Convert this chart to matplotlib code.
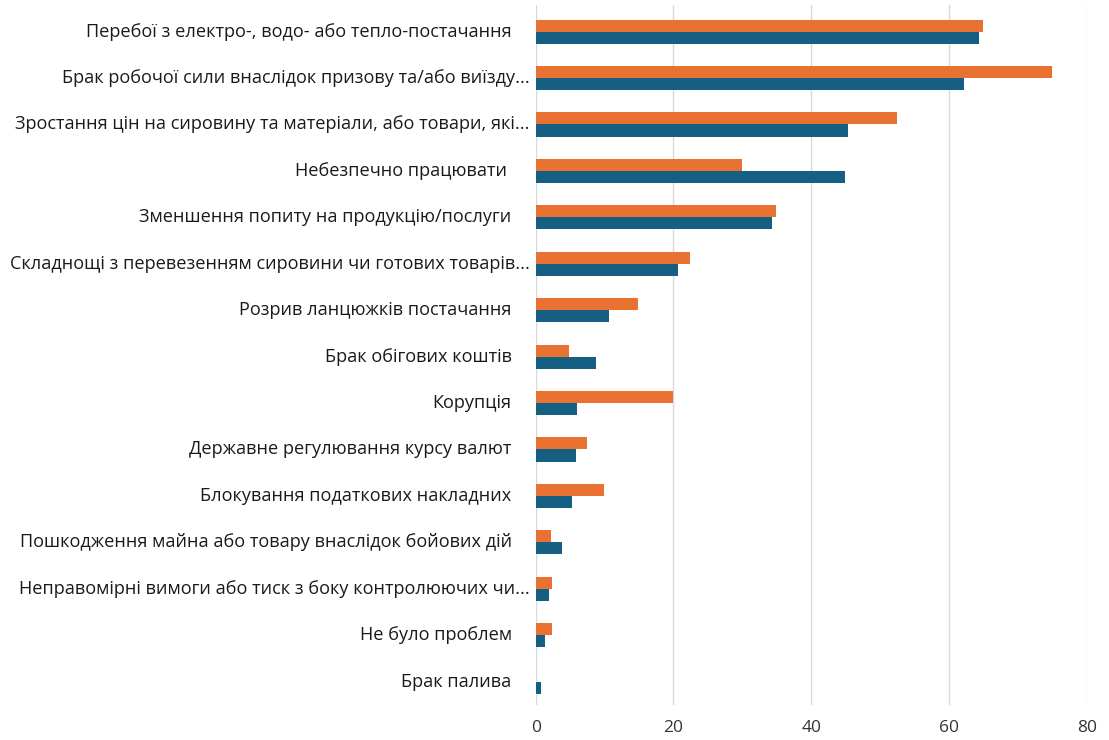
import numpy as np
import matplotlib.pyplot as plt
import matplotlib.transforms as mtransforms

categories = [
    "Перебої з електро-, водо- або тепло-постачання",
    "Брак робочої сили внаслідок призову та/або виїзду...",
    "Зростання цін на сировину та матеріали, або товари, які...",
    "Небезпечно працювати ",
    "Зменшення попиту на продукцію/послуги",
    "Складнощі з перевезенням сировини чи готових товарів...",
    "Розрив ланцюжків постачання",
    "Брак обігових коштів",
    "Корупція",
    "Державне регулювання курсу валют",
    "Блокування податкових накладних",
    "Пошкодження майна або товару внаслідок бойових дій",
    "Неправомірні вимоги або тиск з боку контролюючих чи...",
    "Не було проблем",
    "Брак палива",
]
orange_vals = [65.0, 75.0, 52.4, 29.9, 34.9, 22.4, 14.9, 4.8, 19.9, 7.4, 9.9, 2.3, 2.4, 2.4, 0.0]
blue_vals = [64.3, 62.2, 45.4, 44.9, 34.3, 20.6, 10.6, 8.7, 6.0, 5.8, 5.3, 3.8, 2.0, 1.4, 0.8]
xticks = [0, 20, 40, 60, 80]

plt.rcParams['font.family'] = ['Open Sans', 'DejaVu Sans']

fig = plt.figure(figsize=(11.09, 7.40), dpi=100)
ax = fig.add_axes([0.483, 0.047, 0.497, 0.946])

y = np.arange(len(categories))
h = 0.26
ax.barh(y - h / 2, orange_vals, height=h, color='#E97132', zorder=3)
ax.barh(y + h / 2, blue_vals, height=h, color='#156082', zorder=3)

ax.set_xlim(0, 80)
ax.set_ylim(14.51, -0.57)
ax.set_xticks(xticks)
ax.set_yticks([])
ax.tick_params(axis='x', labelsize=12.5, colors='#333333', length=0, pad=11)
ax.grid(axis='x', color='#d9d9d9', linewidth=1, zorder=0)
for s in ax.spines.values():
    s.set_visible(False)

# category labels: truncated ones (with "...") sit closer to the axis, like Excel does
base = mtransforms.blended_transform_factory(ax.transAxes, ax.transData)
for yi, lab in zip(y, categories):
    off = -6 if lab.endswith('...') else -24
    tr = mtransforms.offset_copy(base, fig=fig, x=off, y=0, units='dots')
    ax.text(0, yi, lab, transform=tr, ha='right', va='center',
            fontsize=13.1, color='#1a1a1a')

fig.savefig('out.png', dpi=100)
